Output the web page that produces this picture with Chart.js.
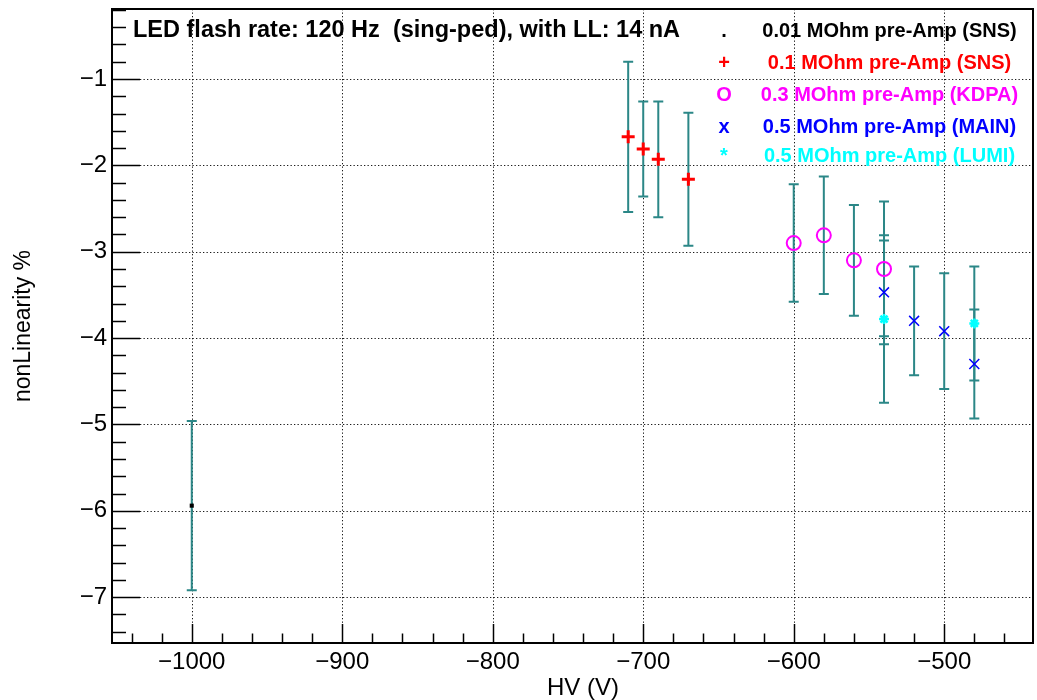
<!DOCTYPE html>
<html>
<head>
<meta charset="utf-8">
<script src="https://cdn.jsdelivr.net/npm/chart.js@4.4.0/dist/chart.umd.min.js"></script>
<style>
  html, body { margin: 0; padding: 0; background: #fff; }
  #wrap { width: 1037px; height: 700px; }
</style>
</head>
<body>
<div id="wrap"><canvas id="c" width="1037" height="700"></canvas></div>
<script>
// HV setting (V), nonlinearity (%) and its uncertainty, one group per pre-amp
const snsLowHV  = [-1000];
const snsLowVal = [-5.94];
const snsLowErr = [0.98];

const snsHV  = [-710, -700, -690, -670];
const snsVal = [-1.67, -1.81, -1.93, -2.16];
const snsErr = [0.87, 0.55, 0.67, 0.77];

const kdpaHV  = [-600, -580, -560, -540];
const kdpaVal = [-2.90, -2.81, -3.10, -3.20];
const kdpaErr = [0.68, 0.68, 0.64, 0.78];

const mainHV  = [-540, -520, -500, -480];
const mainVal = [-3.47, -3.80, -3.92, -4.30];
const mainErr = [0.60, 0.63, 0.67, 0.63];

const lumiHV  = [-540, -480];
const lumiVal = [-3.78, -3.83];
const lumiErr = [0.97, 0.66];

const xTickValues = [-1000, -900, -800, -700, -600, -500];
const yTickValues = [-7, -6, -5, -4, -3, -2, -1];

const seriesLabels = [
  '0.01 MOhm pre-Amp (SNS)',
  '0.1 MOhm pre-Amp (SNS)',
  '0.3 MOhm pre-Amp (KDPA)',
  '0.5 MOhm pre-Amp (MAIN)',
  '0.5 MOhm pre-Amp (LUMI)'
];
const legendGlyphs = ['.', '+', 'O', 'x', '*'];
const seriesColors = ['#000000', '#ff0000', '#ff00ff', '#0000ff', '#00ffff'];
const titleText = 'LED flash rate: 120 Hz  (sing-ped), with LL: 14 nA';

const FONT = "'Liberation Sans', Arial, Helvetica, sans-serif";
const ERR_COLOR = '#2b8787';

const toPoints = (xs, ys) => xs.map((v, i) => ({ x: v, y: ys[i] }));
const fmt = v => (v < 0 ? '\u2212' + Math.abs(v) : String(v));

// error bars, dotted grid, inner ticks, frame and the text block
const framePlugin = {
  id: 'rootFrame',
  beforeDatasetsDraw(chart) {
    const { ctx, chartArea: a, scales: { x, y } } = chart;
    ctx.save();
    // dotted grid at the major ticks
    ctx.strokeStyle = '#1a1a1a';
    ctx.lineWidth = 1;
    ctx.setLineDash([1.3, 2.2]);
    x.ticks.forEach(t => {
      const px = Math.round(x.getPixelForValue(t.value)) + 0.5;
      ctx.beginPath(); ctx.moveTo(px, a.top); ctx.lineTo(px, a.bottom); ctx.stroke();
    });
    y.ticks.forEach(t => {
      const py = Math.round(y.getPixelForValue(t.value)) + 0.5;
      ctx.beginPath(); ctx.moveTo(a.left, py); ctx.lineTo(a.right, py); ctx.stroke();
    });
    ctx.setLineDash([]);
    // vertical error bars with end caps
    ctx.strokeStyle = ERR_COLOR;
    ctx.lineWidth = 2;
    chart.data.datasets.forEach((ds, i) => {
      if (!chart.isDatasetVisible(i)) return;
      ds.data.forEach((p, j) => {
        const e = ds.errors[j];
        const px = x.getPixelForValue(p.x);
        const yT = y.getPixelForValue(p.y + e);
        const yB = y.getPixelForValue(p.y - e);
        ctx.beginPath();
        ctx.moveTo(px, yT); ctx.lineTo(px, yB);
        ctx.moveTo(px - 5, yT); ctx.lineTo(px + 5, yT);
        ctx.moveTo(px - 5, yB); ctx.lineTo(px + 5, yB);
        ctx.stroke();
      });
    });
    ctx.restore();
  },
  afterDatasetsDraw(chart) {
    const { ctx, chartArea: a, scales: { x, y } } = chart;
    ctx.save();
    ctx.strokeStyle = '#000';
    ctx.lineWidth = 1.5;
    // x ticks: majors every 100, minors every 20, drawn inward
    for (let k = Math.ceil(x.min / 20); k <= Math.floor(x.max / 20); k++) {
      const v = k * 20;
      const len = v % 100 === 0 ? 19 : 9.5;
      const px = Math.round(x.getPixelForValue(v)) + 0.5;
      ctx.beginPath(); ctx.moveTo(px, a.bottom); ctx.lineTo(px, a.bottom - len); ctx.stroke();
    }
    // y ticks: majors every 1, minors every 0.2
    for (let k = Math.ceil(y.min * 5); k <= Math.floor(y.max * 5); k++) {
      const len = k % 5 === 0 ? 28 : 14;
      const py = Math.round(y.getPixelForValue(k / 5)) + 0.5;
      ctx.beginPath(); ctx.moveTo(a.left, py); ctx.lineTo(a.left + len, py); ctx.stroke();
    }
    // frame
    ctx.lineWidth = 2;
    ctx.strokeRect(a.left, a.top, a.right - a.left, a.bottom - a.top);

    // title inside the frame
    ctx.fillStyle = '#000';
    ctx.font = 'bold 23.5px ' + FONT;
    ctx.textAlign = 'left';
    ctx.textBaseline = 'alphabetic';
    ctx.fillText(titleText, 133, 37);

    // legend block
    const rows = [31.7, 63.3, 95.7, 127.7, 156.7];
    ctx.font = 'bold 20px ' + FONT;
    ctx.textBaseline = 'middle';
    seriesLabels.forEach((lab, i) => {
      ctx.fillStyle = seriesColors[i];
      ctx.textAlign = 'center';
      ctx.fillText(legendGlyphs[i], 724, rows[i]);
      ctx.fillText(lab, 889.5, rows[i]);
    });

    // x axis title
    ctx.fillStyle = '#000';
    ctx.font = '24px ' + FONT;
    ctx.textAlign = 'center';
    ctx.textBaseline = 'alphabetic';
    ctx.fillText('HV (V)', 583, 695);
    ctx.restore();
  }
};

const datasets = [
  { label: seriesLabels[0], data: toPoints(snsLowHV, snsLowVal), errors: snsLowErr,
    pointStyle: 'rect', pointRadius: 2.9, borderWidth: 0,
    backgroundColor: seriesColors[0], borderColor: seriesColors[0] },
  { label: seriesLabels[1], data: toPoints(snsHV, snsVal), errors: snsErr,
    pointStyle: 'cross', pointRadius: 6.5, borderWidth: 3,
    backgroundColor: seriesColors[1], borderColor: seriesColors[1] },
  { label: seriesLabels[2], data: toPoints(kdpaHV, kdpaVal), errors: kdpaErr,
    pointStyle: 'circle', pointRadius: 7, borderWidth: 2,
    backgroundColor: 'rgba(0,0,0,0)', borderColor: seriesColors[2] },
  { label: seriesLabels[3], data: toPoints(mainHV, mainVal), errors: mainErr,
    pointStyle: 'crossRot', pointRadius: 7, borderWidth: 1.5,
    backgroundColor: seriesColors[3], borderColor: seriesColors[3] },
  { label: seriesLabels[4], data: toPoints(lumiHV, lumiVal), errors: lumiErr,
    pointStyle: 'star', pointRadius: 5, borderWidth: 2.5,
    backgroundColor: seriesColors[4], borderColor: seriesColors[4] }
];

new Chart(document.getElementById('c'), {
  type: 'scatter',
  data: { datasets },
  options: {
    responsive: false,
    animation: false,
    devicePixelRatio: 1,
    layout: { autoPadding: false, padding: { top: 9, right: 4, left: 0, bottom: 0 } },
    plugins: { legend: { display: false }, tooltip: { enabled: false } },
    scales: {
      x: {
        type: 'linear', min: -1053, max: -441,
        afterBuildTicks: s => { s.ticks = xTickValues.map(v => ({ value: v })); },
        afterFit: s => { s.height = 57; s.paddingLeft = 0; s.paddingRight = 0; },
        grid: { display: false, drawTicks: false },
        border: { display: false },
        ticks: { color: '#000', padding: 5, maxRotation: 0, autoSkip: false,
                 font: { family: FONT, size: 24 }, callback: fmt }
      },
      y: {
        type: 'linear', min: -7.53, max: -0.19,
        afterBuildTicks: s => { s.ticks = yTickValues.map(v => ({ value: v })); },
        afterFit: s => { s.width = 112; s.paddingTop = 0; s.paddingBottom = 0; },
        grid: { display: false, drawTicks: false },
        border: { display: false },
        ticks: { color: '#000', padding: 5, autoSkip: false,
                 font: { family: FONT, size: 24 }, callback: fmt },
        title: { display: true, text: 'nonLinearity %', color: '#000',
                 font: { family: FONT, size: 23 }, padding: { top: 10, bottom: 0 } }
      }
    }
  },
  plugins: [framePlugin]
});
</script>
</body>
</html>
